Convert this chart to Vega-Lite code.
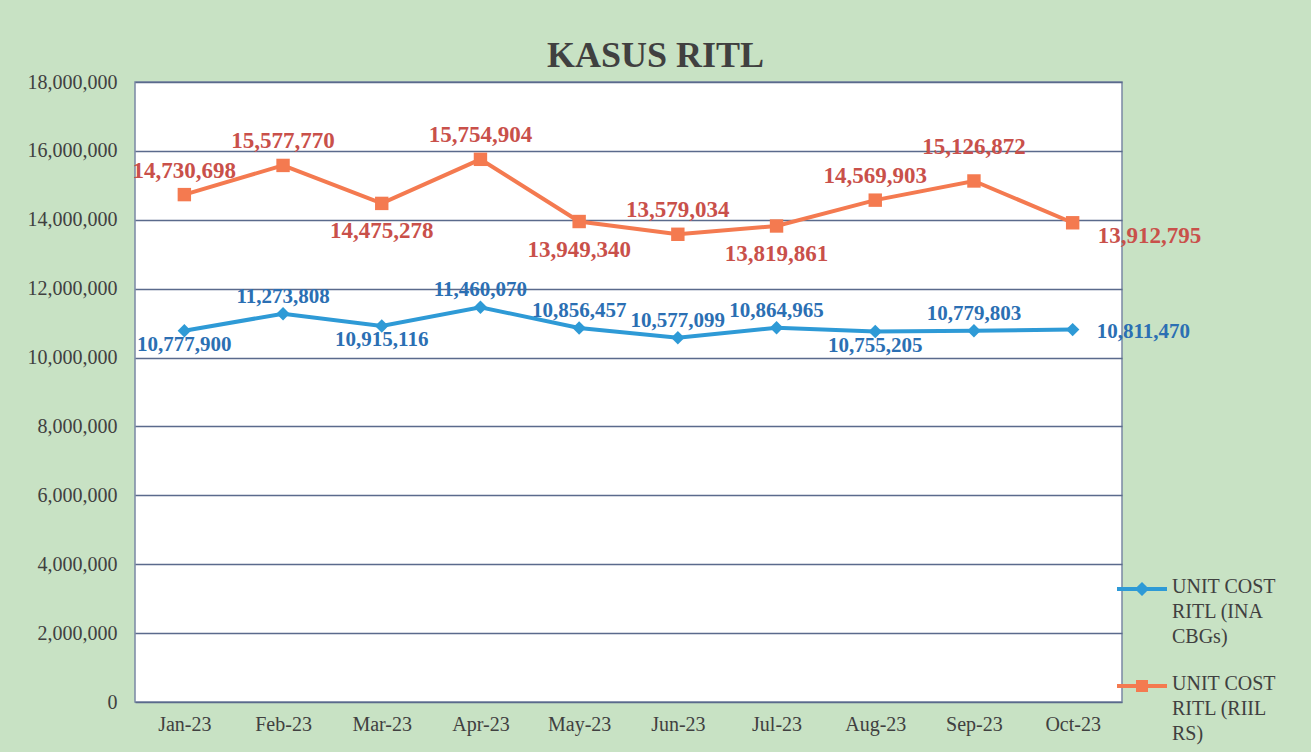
{
  "$schema": "https://vega.github.io/schema/vega-lite/v6.json",
  "autosize": {"type": "none"},
  "width": 987,
  "height": 620,
  "padding": {"left": 135, "top": 82, "right": 189, "bottom": 50},
  "background": "#c8e2c4",
  "title": {
    "text": "KASUS RITL",
    "font": "Liberation Serif",
    "fontSize": 36,
    "fontWeight": "bold",
    "color": "#404040",
    "anchor": "middle",
    "dx": 27,
    "offset": -3
  },
  "config": {
    "view": {"fill": "white", "stroke": "#7a88a4", "strokeWidth": 1.5},
    "font": "Liberation Serif"
  },
  "data": {
    "values": [
      {"month": "Jan-23", "series": "UNIT COST RITL (INA CBGs)", "value": 10777900},
      {"month": "Feb-23", "series": "UNIT COST RITL (INA CBGs)", "value": 11273808},
      {"month": "Mar-23", "series": "UNIT COST RITL (INA CBGs)", "value": 10915116},
      {"month": "Apr-23", "series": "UNIT COST RITL (INA CBGs)", "value": 11460070},
      {"month": "May-23", "series": "UNIT COST RITL (INA CBGs)", "value": 10856457},
      {"month": "Jun-23", "series": "UNIT COST RITL (INA CBGs)", "value": 10577099},
      {"month": "Jul-23", "series": "UNIT COST RITL (INA CBGs)", "value": 10864965},
      {"month": "Aug-23", "series": "UNIT COST RITL (INA CBGs)", "value": 10755205},
      {"month": "Sep-23", "series": "UNIT COST RITL (INA CBGs)", "value": 10779803},
      {"month": "Oct-23", "series": "UNIT COST RITL (INA CBGs)", "value": 10811470},
      {"month": "Jan-23", "series": "UNIT COST RITL (RIIL RS)", "value": 14730698},
      {"month": "Feb-23", "series": "UNIT COST RITL (RIIL RS)", "value": 15577770},
      {"month": "Mar-23", "series": "UNIT COST RITL (RIIL RS)", "value": 14475278},
      {"month": "Apr-23", "series": "UNIT COST RITL (RIIL RS)", "value": 15754904},
      {"month": "May-23", "series": "UNIT COST RITL (RIIL RS)", "value": 13949340},
      {"month": "Jun-23", "series": "UNIT COST RITL (RIIL RS)", "value": 13579034},
      {"month": "Jul-23", "series": "UNIT COST RITL (RIIL RS)", "value": 13819861},
      {"month": "Aug-23", "series": "UNIT COST RITL (RIIL RS)", "value": 14569903},
      {"month": "Sep-23", "series": "UNIT COST RITL (RIIL RS)", "value": 15126872},
      {"month": "Oct-23", "series": "UNIT COST RITL (RIIL RS)", "value": 13912795}
    ]
  },
  "encoding": {
    "x": {
      "field": "month",
      "type": "ordinal",
      "sort": ["Jan-23", "Feb-23", "Mar-23", "Apr-23", "May-23", "Jun-23", "Jul-23", "Aug-23", "Sep-23", "Oct-23"],
      "scale": {"type": "point", "padding": 0.5},
      "axis": {
        "title": null,
        "labelAngle": 0,
        "ticks": false,
        "domain": false,
        "grid": false,
        "labelFont": "Liberation Serif",
        "labelFontSize": 20,
        "labelColor": "#404040",
        "labelPadding": 12
      }
    },
    "y": {
      "field": "value",
      "type": "quantitative",
      "scale": {"domain": [0, 18000000], "nice": false, "zero": true},
      "axis": {
        "title": null,
        "values": [0, 2000000, 4000000, 6000000, 8000000, 10000000, 12000000, 14000000, 16000000, 18000000],
        "format": ",d",
        "ticks": false,
        "domain": false,
        "grid": true,
        "gridColor": "#5a6a8c",
        "gridWidth": 1.5,
        "labelFont": "Liberation Serif",
        "labelFontSize": 20,
        "labelColor": "#404040",
        "labelPadding": 18
      }
    }
  },
  "layer": [
    {
      "mark": {"type": "line", "strokeWidth": 4},
      "encoding": {
        "color": {
          "field": "series",
          "type": "nominal",
          "scale": {
            "domain": ["UNIT COST RITL (INA CBGs)", "UNIT COST RITL (RIIL RS)"],
            "range": ["#2e9ad6", "#f47a50"]
          },
          "legend": {
            "title": null,
            "orient": "none",
            "legendX": 980,
            "legendY": 480,
            "labelFont": "Liberation Serif",
            "labelFontSize": 20,
            "labelColor": "#404040",
            "labelOffset": 3,
            "labelLimit": 300,
            "labelBaseline": "top",
            "rowPadding": 12,
            "symbolSize": 2500,
            "symbolStrokeWidth": 4,
            "labelExpr": "datum.value == 'UNIT COST RITL (INA CBGs)' ? ['UNIT COST', 'RITL (INA', 'CBGs)'] : ['UNIT COST', 'RITL (RIIL', 'RS)']",
            "encode": {
              "symbols": {
                "update": {
                  "shape": {"signal": "datum.value == 'UNIT COST RITL (INA CBGs)' ? 'M-1,0H1M-0.17,0L0,-0.17L0.17,0L0,0.17Z' : 'M-1,0H1M-0.16,-0.16H0.16V0.16H-0.16Z'"},
                  "fill": {"scale": "color", "field": "value"},
                  "size": {"value": 2500}
                }
              },
              "labels": {
                "update": {
                  "lineHeight": {"value": 25},
                  "dy": {"value": -12}
                }
              }
            }
          }
        }
      }
    },
    {
      "mark": {"type": "point", "filled": true, "opacity": 1, "size": 180},
      "encoding": {
        "color": {"field": "series", "type": "nominal", "legend": null},
        "shape": {
          "condition": {"test": "datum.series == 'UNIT COST RITL (INA CBGs)'", "value": "diamond"},
          "value": "square"
        }
      }
    },
    {
      "transform": [
        {"filter": "datum.series == 'UNIT COST RITL (RIIL RS)' && indexof(['Jan-23','Feb-23','Apr-23','Jun-23','Aug-23'], datum.month) >= 0"}
      ],
      "mark": {"type": "text", "font": "Liberation Serif", "fontSize": 23, "fontWeight": "bold", "color": "#c9504a", "baseline": "middle", "dy": -24},
      "encoding": {"text": {"field": "value", "type": "quantitative", "format": ",d"}}
    },
    {
      "transform": [
        {"filter": "datum.series == 'UNIT COST RITL (RIIL RS)' && datum.month == 'Sep-23'"}
      ],
      "mark": {"type": "text", "font": "Liberation Serif", "fontSize": 23, "fontWeight": "bold", "color": "#c9504a", "baseline": "middle", "dy": -34},
      "encoding": {"text": {"field": "value", "type": "quantitative", "format": ",d"}}
    },
    {
      "transform": [
        {"filter": "datum.series == 'UNIT COST RITL (RIIL RS)' && indexof(['Mar-23','May-23','Jul-23'], datum.month) >= 0"}
      ],
      "mark": {"type": "text", "font": "Liberation Serif", "fontSize": 23, "fontWeight": "bold", "color": "#c9504a", "baseline": "middle", "dy": 28},
      "encoding": {"text": {"field": "value", "type": "quantitative", "format": ",d"}}
    },
    {
      "transform": [
        {"filter": "datum.series == 'UNIT COST RITL (RIIL RS)' && datum.month == 'Oct-23'"}
      ],
      "mark": {"type": "text", "font": "Liberation Serif", "fontSize": 23, "fontWeight": "bold", "color": "#c9504a", "baseline": "middle", "align": "left", "dx": 25, "dy": 13},
      "encoding": {"text": {"field": "value", "type": "quantitative", "format": ",d"}}
    },
    {
      "transform": [
        {"filter": "datum.series == 'UNIT COST RITL (INA CBGs)' && indexof(['Feb-23','Apr-23','May-23','Jun-23','Jul-23','Sep-23'], datum.month) >= 0"}
      ],
      "mark": {"type": "text", "font": "Liberation Serif", "fontSize": 21, "fontWeight": "bold", "color": "#2b6fb3", "baseline": "middle", "dy": -17},
      "encoding": {"text": {"field": "value", "type": "quantitative", "format": ",d"}}
    },
    {
      "transform": [
        {"filter": "datum.series == 'UNIT COST RITL (INA CBGs)' && indexof(['Jan-23','Mar-23','Aug-23'], datum.month) >= 0"}
      ],
      "mark": {"type": "text", "font": "Liberation Serif", "fontSize": 21, "fontWeight": "bold", "color": "#2b6fb3", "baseline": "middle", "dy": 14},
      "encoding": {"text": {"field": "value", "type": "quantitative", "format": ",d"}}
    },
    {
      "transform": [
        {"filter": "datum.series == 'UNIT COST RITL (INA CBGs)' && datum.month == 'Oct-23'"}
      ],
      "mark": {"type": "text", "font": "Liberation Serif", "fontSize": 21, "fontWeight": "bold", "color": "#2b6fb3", "baseline": "middle", "align": "left", "dx": 24, "dy": 2},
      "encoding": {"text": {"field": "value", "type": "quantitative", "format": ",d"}}
    }
  ]
}
